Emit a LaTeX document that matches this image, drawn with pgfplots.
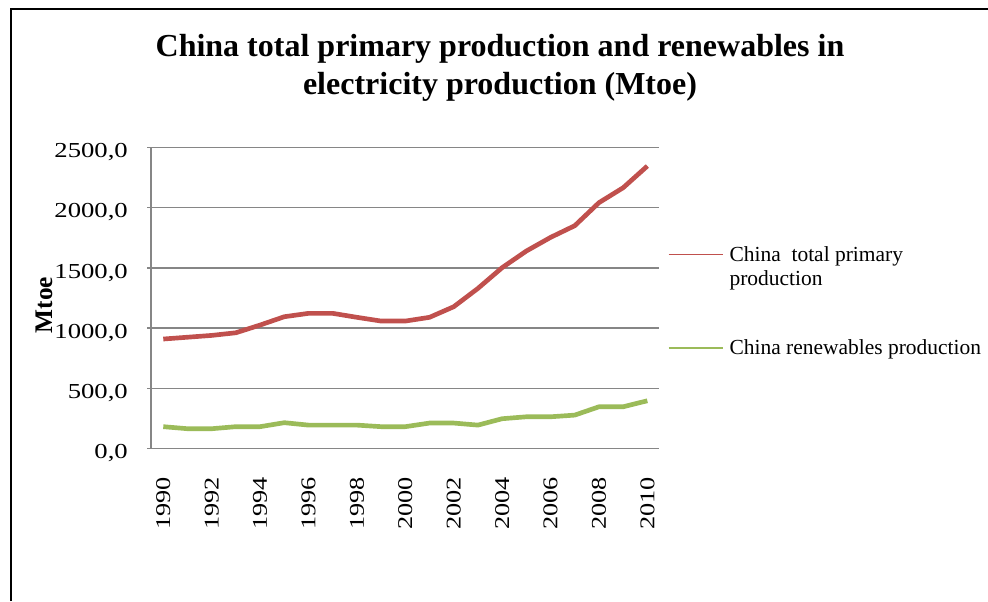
\documentclass[border=0pt]{standalone}
\usepackage{pgfplots}
\pgfplotsset{compat=1.18}
\usepackage{fontspec}
\setmainfont{Liberation Serif}
\newfontfamily\tickfont{Liberation Serif}[FakeStretch=1.25]
\definecolor{redline}{HTML}{C0504D}
\definecolor{greenline}{HTML}{9BBB59}
\definecolor{gridgray}{HTML}{868686}

\begin{document}
\begin{tikzpicture}
\useasboundingbox (0,0) rectangle (741pt,450.75pt);
\draw[line width=1.5pt] (8.25pt,0) -- (8.25pt,444pt) -- (741pt,444pt);
\node[font=\fontsize{24}{28}\selectfont\bfseries, anchor=base] at (375pt,408pt) {China total primary production and renewables in};
\node[font=\fontsize{24}{28}\selectfont\bfseries, anchor=base] at (375pt,379.5pt) {electricity production (Mtoe)};
\node[rotate=90, font=\fontsize{19}{22}\selectfont\bfseries] at (33pt,222pt) {Mtoe};
\begin{axis}[
    at={(113.4pt,114.2pt)}, anchor=south west,
    scale only axis, width=381.2pt, height=226.05pt,
    xmin=1989.5, xmax=2010.5, ymin=0, ymax=2500,
    xtick={1990,1992,...,2010},
    xticklabels={1990,1992,1994,1996,1998,2000,2002,2004,2006,2008,2010},
    ytick={0,500,...,2500},
    yticklabels={{0,0},{500,0},{1000,0},{1500,0},{2000,0},{2500,0}},
    xticklabel style={rotate=90, anchor=east, font=\tickfont\fontsize{15.75}{18}\selectfont},
    yticklabel style={anchor=east, yshift=-3.5pt, font=\tickfont\fontsize{16}{18}\selectfont},
    xticklabel shift=15pt, yticklabel shift=11pt,
    axis x line*=bottom, axis y line*=left,
    x axis line style={-}, y axis line style={-},
    axis line style={gridgray, line width=1.1pt},
    ymajorgrids, grid style={gridgray, line width=1.1pt},
    x tick style={draw=none},
    y tick style={gridgray, line width=1.1pt},
    tick align=outside, major tick length=3pt,
    legend style={draw=none, fill=none, at={(1.008,0.695)}, anchor=north west,
        font=\fontsize{16.1}{18}\selectfont, row sep=53pt},
    legend cell align=left,
    legend image code/.code={\draw[#1, line width=1.1pt] (0pt,0pt) -- (40.5pt,0pt); \path (42pt,0pt);},
]
\addplot[redline, line width=3.5pt, line join=round] coordinates {
(1990,910) (1991,925) (1992,940) (1993,962) (1994,1026) (1995,1095)
(1996,1123) (1997,1123) (1998,1090) (1999,1059) (2000,1059) (2001,1090)
(2002,1178) (2003,1330) (2004,1502) (2005,1640) (2006,1753) (2007,1850)
(2008,2041) (2009,2165) (2010,2345)};
\addlegendentry{\begin{tabular}[t]{@{}l@{}}China~ total primary\\production\end{tabular}}
\addplot[greenline, line width=3.5pt, line join=round] coordinates {
(1990,183) (1991,166) (1992,166) (1993,183) (1994,183) (1995,216)
(1996,196) (1997,196) (1998,196) (1999,183) (2000,183) (2001,213)
(2002,213) (2003,196) (2004,249) (2005,265) (2006,265) (2007,279)
(2008,348) (2009,348) (2010,398)};
\addlegendentry{China renewables production}
\end{axis}
\end{tikzpicture}
\end{document}
